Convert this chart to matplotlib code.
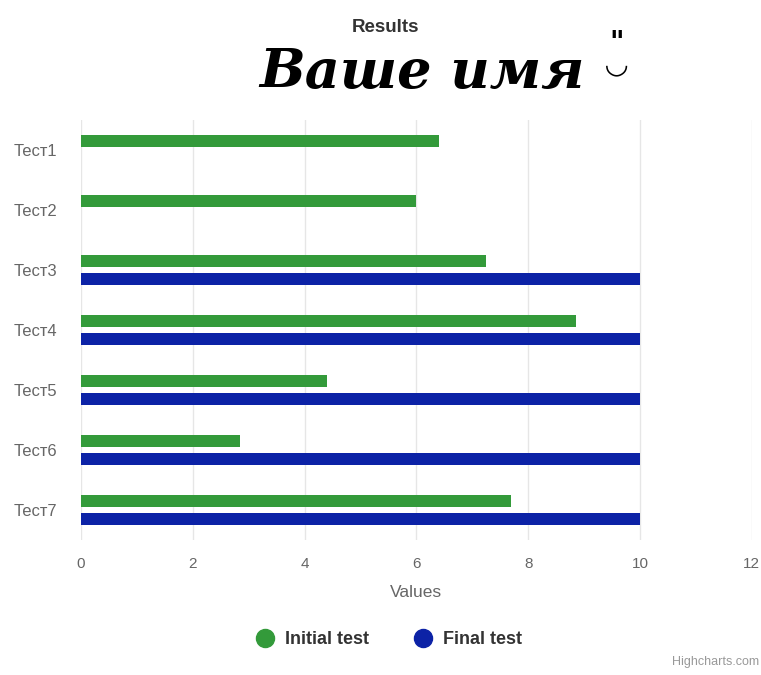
import matplotlib.pyplot as plt
from matplotlib.lines import Line2D
import numpy as np

categories = ["Тест1", "Тест2", "Тест3", "Тест4", "Тест5", "Тест6", "Тест7"]
initial_test = [6.4, 6.0, 7.25, 8.85, 4.4, 2.85, 7.7]
final_test = [None, None, 10, 10, 10, 10, 10]
x_ticks = [0, 2, 4, 6, 8, 10, 12]

green = "#339a3a"
blue = "#0c22a6"

plt.rcParams['font.family'] = ['Liberation Sans', 'DejaVu Sans']

fig = plt.figure(figsize=(7.61, 6.75), dpi=100)
ax = fig.add_axes([0.1064, 0.2, 0.8816, 0.622])

y = np.arange(len(categories))
h = 0.2
ax.barh(y - 0.15, initial_test, height=h, color=green, zorder=3)
final_vals = [v if v is not None else 0 for v in final_test]
ax.barh(y + 0.15, final_vals, height=h, color=blue, zorder=3)

ax.set_xlim(0, 12)
ax.set_ylim(len(categories) - 0.5, -0.5)
ax.set_xticks(x_ticks)
ax.set_yticks(y)
ax.set_yticklabels(categories)
ax.grid(axis='x', color='#e6e6e6', linewidth=1, zorder=0)
for s in ax.spines.values():
    s.set_visible(False)
ax.tick_params(axis='both', length=0, colors='#666666', labelsize=11)
ax.tick_params(axis='y', labelsize=12, pad=17)
ax.tick_params(axis='x', pad=12)
ax.set_xlabel('Values', color='#666666', fontsize=12.5, labelpad=10)

fig.text(0.506, 0.96, 'Results', ha='center', va='center', fontsize=13.5,
         fontweight='bold', color='#333333')
fig.text(0.555, 0.892, 'Ваше имя', ha='center', va='center', fontsize=39,
         fontstyle='italic', fontweight='bold', color='black',
         family=['DejaVu Serif'])
fig.text(0.81, 0.92, '"\n◡', ha='center', va='center', fontsize=20,
         fontweight='bold', color='black', linespacing=0.7,
         family=['DejaVu Sans'])

handles = [Line2D([], [], marker='o', linestyle='', color=green, markersize=13),
           Line2D([], [], marker='o', linestyle='', color=blue, markersize=13)]
leg = fig.legend(handles, ['Initial test', 'Final test'], loc='center',
                 bbox_to_anchor=(0.505, 0.052), ncol=2, frameon=False,
                 prop={'weight': 'bold', 'size': 13}, handletextpad=0.1,
                 columnspacing=2.0)
for t in leg.get_texts():
    t.set_color('#333333')

fig.text(0.998, 0.01, 'Highcharts.com', ha='right', va='bottom', fontsize=9,
         color='#999999')

fig.savefig('out.png', dpi=100)
